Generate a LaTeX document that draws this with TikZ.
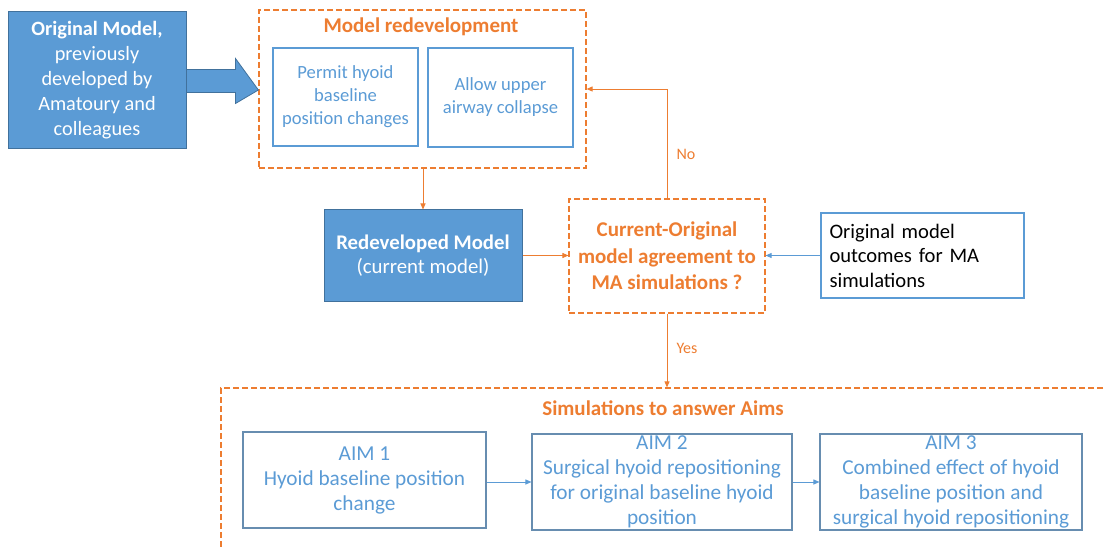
\documentclass[tikz,border=0pt]{standalone}
\usepackage{fontspec}
\setmainfont{Carlito}
\usetikzlibrary{arrows.meta,calc}
\definecolor{mblue}{HTML}{5B9BD5}
\definecolor{dblue}{HTML}{41719C}
\definecolor{morange}{HTML}{ED7D31}
\tikzset{
  fillbox/.style={draw=dblue, line width=1pt, fill=mblue, text=white, align=center, inner sep=0pt},
  lightbox/.style={draw=mblue, line width=1.3pt, text=mblue, align=center, inner sep=0pt},
  aimbox/.style={draw=dblue!80, line width=1.1pt, text=mblue, align=center, inner sep=0pt},
  orbox/.style={draw=morange, line width=1.2pt, dash pattern=on 6pt off 3pt, align=center, inner sep=0pt},
  oarrow/.style={draw=morange, line width=0.9pt, -{Triangle[length=6pt,width=5pt]}},
  barrow/.style={draw=mblue, line width=0.9pt, -{Triangle[length=6pt,width=5pt]}},
  lbl/.style={text=morange, font=\fontsize{16}{19}\selectfont},
}
\begin{document}
\begin{tikzpicture}[x=1pt,y=-1pt]
\useasboundingbox (0,0) rectangle (1106,548);
% Original model
\node[fillbox, minimum width=178pt, minimum height=137pt, font=\fontsize{20.3}{25}\selectfont] (orig) at (97,80.5)
  {\textbf{Original Model,}\\previously\\developed by\\Amatoury and\\colleagues};
% Model redevelopment container
\node[orbox, minimum width=327pt, minimum height=158pt] (redev) at (422.5,89) {};
\node[text=morange, font=\fontsize{21}{25}\selectfont\bfseries] (redevt) at (421,27) {Model redevelopment};
\node[lightbox, minimum width=145pt, minimum height=98pt, font=\fontsize{18.6}{23}\selectfont] (permit) at (345.5,97)
  {Permit hyoid\\baseline\\position changes};
\node[lightbox, minimum width=145pt, minimum height=99pt, font=\fontsize{18.6}{23}\selectfont] (allow) at (500.5,97.5)
  {Allow upper\\airway collapse};
% big arrow
\fill[mblue, draw=dblue, line width=0.8pt]
  ($(orig.east)+(0,-11)$) -- ++(49,0) -- ++(0,-11) -- ($(redev.west)+(0,1)$) -- ($(orig.east)+(49,23)$) -- ++(0,-11) -- ($(orig.east)+(0,12)$) -- cycle;
% Redeveloped model
\node[fillbox, minimum width=198pt, minimum height=91pt, font=\fontsize{20.8}{24}\selectfont] (redm) at (423,255.5)
  {\textbf{Redeveloped Model}\\(current model)};
% Current-original
\node[orbox, minimum width=196pt, minimum height=114pt, text=morange, font=\fontsize{21}{26.5}\selectfont\bfseries] (cur) at (667,256)
  {Current-Original\\model agreement to\\MA simulations ?};
% outcomes
\node[draw=mblue, line width=2.4pt, minimum width=203pt, minimum height=85pt, text width=186pt, align=left, inner sep=0pt,
  font=\fontsize{20.6}{24.5}\selectfont] (outc) at (922.5,255.5)
  {Original model\\outcomes for MA\\simulations};
% Simulations container (clipped)
\begin{scope}
\clip (0,0) rectangle (1106,548);
\node[orbox, minimum width=900pt, minimum height=180pt] (sim) at (671,478) {};
\end{scope}
\node[text=morange, font=\fontsize{21}{25}\selectfont\bfseries] (simt) at (663,408) {Simulations to answer Aims};
\node[aimbox, minimum width=243pt, minimum height=96pt, font=\fontsize{21.3}{25}\selectfont] (aim1) at (364.5,480)
  {AIM 1\\Hyoid baseline position\\change};
\node[aimbox, minimum width=260pt, minimum height=96pt, font=\fontsize{21.3}{25}\selectfont] (aim2) at (662,482)
  {AIM 2\\Surgical hyoid repositioning\\for original baseline hyoid\\position};
\node[aimbox, minimum width=262pt, minimum height=96pt, font=\fontsize{21.3}{25}\selectfont] (aim3) at (951,482)
  {AIM 3\\Combined effect of hyoid\\baseline position and\\surgical hyoid repositioning};
% connectors
\draw[oarrow] (redev.south -| redm) -- (redm.north);
\draw[oarrow] (redm.east) -- (redm.east -| cur.west);
\draw[barrow] (outc.west) -- (outc.west -| cur.east);
\coordinate (nocorner) at (cur.north |- 0,89);
\draw[oarrow] (cur.north) -- (nocorner) -- (nocorner -| redev.east);
\node[lbl] (no) at (686,154) {No};
\draw[oarrow] (cur.south) -- (cur.south |- sim.north);
\node[lbl] (yes) at (687,348) {Yes};
\draw[barrow] (aim1.east |- 0,482) -- (aim2.west |- 0,482);
\draw[barrow] (aim2.east |- 0,482) -- (aim3.west |- 0,482);
\end{tikzpicture}
\end{document}
